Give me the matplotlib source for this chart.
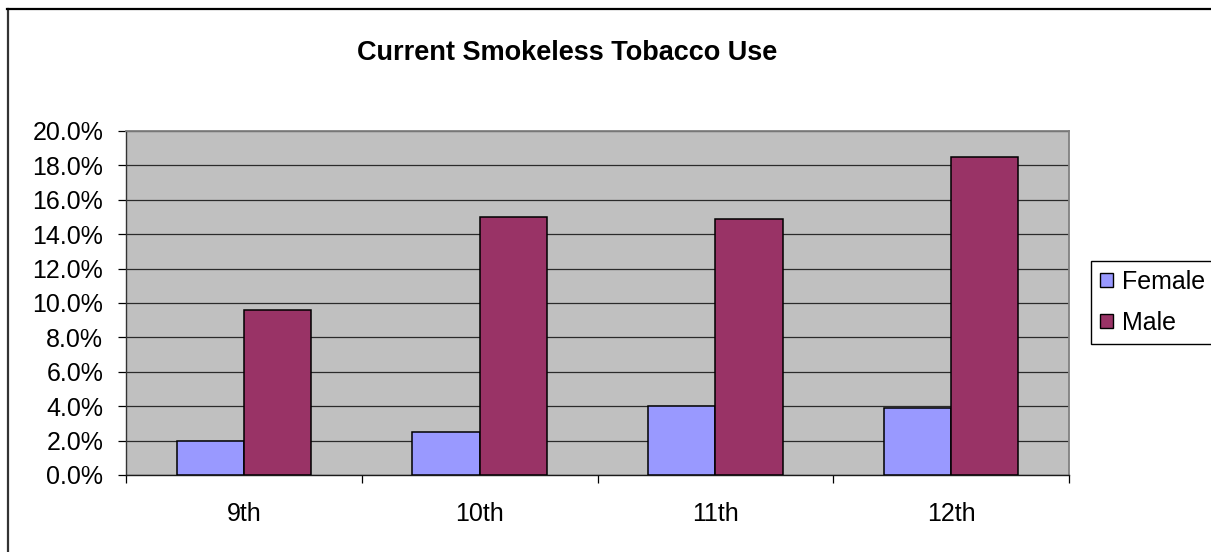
import matplotlib
matplotlib.use("Agg")
import matplotlib.pyplot as plt
from matplotlib.lines import Line2D
from matplotlib.patches import Patch
from matplotlib.ticker import FuncFormatter
import numpy as np

# Current smokeless tobacco use by grade and sex
grades = ["9th", "10th", "11th", "12th"]
female = [0.020, 0.025, 0.040, 0.039]
male = [0.096, 0.150, 0.149, 0.185]
series_names = ["Female", "Male"]
y_ticks = [0.00, 0.02, 0.04, 0.06, 0.08, 0.10, 0.12, 0.14, 0.16, 0.18, 0.20]

plt.rcParams["font.family"] = ["Liberation Sans", "DejaVu Sans"]

W, H = 1211, 552
fig = plt.figure(figsize=(W / 100, H / 100), dpi=100)
fig.patch.set_facecolor("white")

ax = fig.add_axes([126 / W, 1 - 475 / H, (1069 - 126) / W, (475 - 131) / H])
ax.set_facecolor("#C0C0C0")

x = np.arange(len(grades))
bw = 1 / 3.5
ax.bar(x - bw / 2, female, bw, color="#9999FF", edgecolor="black", linewidth=1.1, zorder=3)
ax.bar(x + bw / 2, male, bw, color="#993366", edgecolor="black", linewidth=1.1, zorder=3)

ax.set_xlim(-0.5, len(grades) - 0.5)
ax.set_ylim(y_ticks[0], y_ticks[-1])

# y axis: percentage ticks with horizontal gridlines
ax.set_yticks(y_ticks)
ax.yaxis.set_major_formatter(FuncFormatter(lambda v, p: f"{v * 100:.1f}%"))
ax.grid(axis="y", color="#2a2a2a", linewidth=0.9, zorder=1)
ax.set_axisbelow(True)
ax.tick_params(axis="y", direction="out", length=5.8, width=0.9, color="black",
               labelsize=18, pad=10.5)

# x axis: tick marks between categories, labels centred on each group
ax.set_xticks(np.arange(-0.5, len(grades), 1.0))
ax.set_xticklabels([])
ax.set_xticks(x, minor=True)
ax.set_xticklabels(grades, minor=True)
ax.tick_params(axis="x", which="major", direction="out", length=5.8, width=0.9, color="black")
ax.tick_params(axis="x", which="minor", length=0, labelsize=18, pad=19.5)

for side in ("top", "right"):
    ax.spines[side].set_color("#808080")
    ax.spines[side].set_linewidth(1.3)
ax.spines["left"].set_color("#333333")
ax.spines["bottom"].set_color("#1a1a1a")
ax.spines["left"].set_linewidth(1.0)
ax.spines["bottom"].set_linewidth(1.0)

fig.text(567 / W, 1 - 60 / H, "Current Smokeless Tobacco Use", ha="center", va="baseline",
         fontsize=19.5, fontweight="bold")

handles = [Patch(facecolor="#9999FF", edgecolor="black", linewidth=1.0),
           Patch(facecolor="#993366", edgecolor="black", linewidth=1.0)]
leg = fig.legend(handles, series_names, loc="upper left",
                 bbox_to_anchor=(1091 / W, 1 - 261 / H), bbox_transform=fig.transFigure,
                 fontsize=18, frameon=True, fancybox=False, shadow=False,
                 borderaxespad=0, borderpad=0.36, handlelength=0.5, handleheight=0.5,
                 handletextpad=0.4, labelspacing=0.68)
leg.get_frame().set_edgecolor("black")
leg.get_frame().set_linewidth(1.0)
leg.get_frame().set_alpha(1)

# chart area border
fig.add_artist(Line2D([7.5 / W, 7.5 / W], [0, 1 - 9 / H], transform=fig.transFigure,
                      color="#333333", linewidth=1.6))
fig.add_artist(Line2D([7 / W, 1], [1 - 9 / H, 1 - 9 / H], transform=fig.transFigure,
                      color="black", linewidth=1.6))

fig.savefig("out.png", dpi=100, facecolor="white")
